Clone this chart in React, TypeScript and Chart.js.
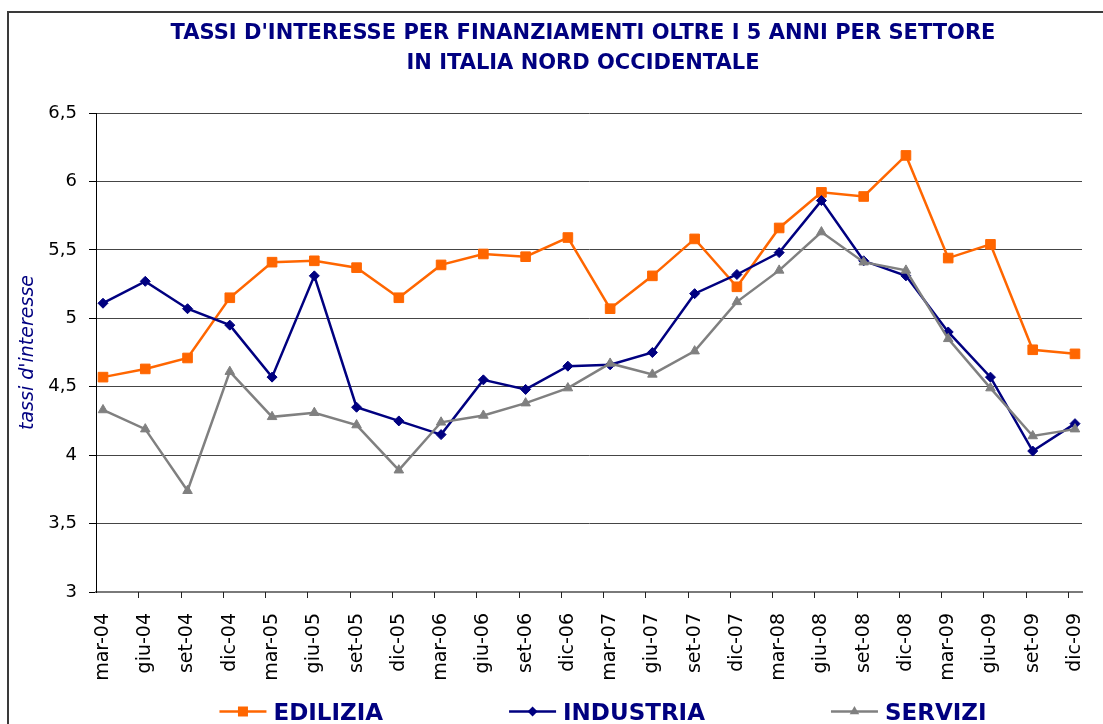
import React, { useEffect, useRef } from 'react';
import { Chart, registerables } from 'chart.js';

Chart.register(...registerables);

const categories = ['mar-04','giu-04','set-04','dic-04','mar-05','giu-05','set-05','dic-05','mar-06','giu-06','set-06','dic-06','mar-07','giu-07','set-07','dic-07','mar-08','giu-08','set-08','dic-08','mar-09','giu-09','set-09','dic-09'];
const edilizia = [4.57,4.63,4.71,5.15,5.41,5.42,5.37,5.15,5.39,5.47,5.45,5.59,5.07,5.31,5.58,5.23,5.66,5.92,5.89,6.19,5.44,5.54,4.77,4.74];
const industria = [5.11,5.27,5.07,4.95,4.57,5.31,4.35,4.25,4.15,4.55,4.48,4.65,4.66,4.75,5.18,5.32,5.48,5.86,5.42,5.31,4.90,4.57,4.03,4.23];
const servizi = [4.33,4.19,3.74,4.61,4.28,4.31,4.22,3.89,4.24,4.29,4.38,4.49,4.67,4.59,4.76,5.12,5.35,5.63,5.41,5.35,4.85,4.49,4.14,4.19];
const yTicks = [3, 3.5, 4, 4.5, 5, 5.5, 6, 6.5];
const seriesNames = ['EDILIZIA', 'INDUSTRIA', 'SERVIZI'];
const titleLines = ["TASSI D'INTERESSE PER FINANZIAMENTI OLTRE I 5 ANNI PER SETTORE", 'IN ITALIA NORD OCCIDENTALE'];
const yTitle = "tassi d'interesse";

const W = 1103;
const H = 724;
const X_PAD = 0.166;
const NAVY = '#000080';
const ORANGE = '#FF6600';
const GRAY = '#808080';

const seriesStyles = [
  { color: ORANGE, marker: 'rect' },
  { color: NAVY, marker: 'rectRot' },
  { color: GRAY, marker: 'triangle' },
];

function drawMarker(ctx: CanvasRenderingContext2D, kind: string, x: number, y: number, color: string) {
  ctx.fillStyle = color;
  ctx.beginPath();
  if (kind === 'rect') {
    ctx.rect(x - 5, y - 5, 10, 10);
  } else if (kind === 'rectRot') {
    ctx.moveTo(x - 5, y);
    ctx.lineTo(x, y - 5);
    ctx.lineTo(x + 5, y);
    ctx.lineTo(x, y + 5);
    ctx.closePath();
  } else {
    const r = 5.5;
    ctx.moveTo(x, y - r);
    ctx.lineTo(x + r * Math.cos(Math.PI / 6), y + r / 2);
    ctx.lineTo(x - r * Math.cos(Math.PI / 6), y + r / 2);
    ctx.closePath();
  }
  ctx.fill();
}

const decorPlugin = {
  id: 'decor',
  beforeDraw(chart: any) {
    const ctx = chart.ctx as CanvasRenderingContext2D;
    ctx.save();
    ctx.fillStyle = '#ffffff';
    ctx.fillRect(0, 0, chart.width, chart.height);
    ctx.strokeStyle = '#3a3a3a';
    ctx.lineWidth = 2;
    ctx.strokeRect(8, 12, chart.width + 40, chart.height + 40);
    ctx.restore();
  },
  afterDraw(chart: any) {
    const ctx = chart.ctx as CanvasRenderingContext2D;
    const area = chart.chartArea;
    const xScale = chart.scales.x;
    const cx = (area.left + area.right) / 2;
    ctx.save();
    // x tick marks between categories
    ctx.strokeStyle = '#222';
    ctx.lineWidth = 1;
    ctx.beginPath();
    for (let i = 1; i < categories.length; i++) {
      const px = Math.round(xScale.getPixelForValue(i - X_PAD)) + 0.5;
      ctx.moveTo(px, area.bottom);
      ctx.lineTo(px, area.bottom + 6);
    }
    ctx.stroke();

    // title
    ctx.fillStyle = NAVY;
    ctx.font = 'bold 21px "DejaVu Sans"';
    ctx.textAlign = 'center';
    ctx.textBaseline = 'alphabetic';
    ctx.fillText(titleLines[0], cx - 6, 39);
    ctx.fillText(titleLines[1], cx - 6, 69);

    // legend
    ctx.font = 'bold 23px "DejaVu Sans"';
    ctx.textAlign = 'left';
    const iconW = 47;
    const gapText = 7;
    const gapItems = 126;
    const widths = seriesNames.map((n) => iconW + gapText + ctx.measureText(n).width);
    const total = widths.reduce((a, b) => a + b, 0) + gapItems * (seriesNames.length - 1);
    let x = cx + 14 - total / 2;
    const ly = 711.5;
    seriesNames.forEach((name, i) => {
      const st = seriesStyles[i];
      ctx.strokeStyle = st.color;
      ctx.lineWidth = 2.5;
      ctx.beginPath();
      ctx.moveTo(x, ly);
      ctx.lineTo(x + iconW, ly);
      ctx.stroke();
      drawMarker(ctx, st.marker, x + iconW / 2, ly, st.color);
      ctx.fillStyle = NAVY;
      ctx.fillText(name, x + iconW + gapText, 720);
      x += widths[i] + gapItems;
    });
    ctx.restore();
  },
};

export default function App() {
  const ref = useRef<HTMLCanvasElement | null>(null);

  useEffect(() => {
    if (!ref.current) return;
    const toPoints = (arr: number[]) => arr.map((v, i) => ({ x: i, y: v }));
    const datasets = [edilizia, industria, servizi].map((arr, i) => ({
      label: seriesNames[i],
      data: toPoints(arr),
      borderColor: seriesStyles[i].color,
      backgroundColor: seriesStyles[i].color,
      pointBackgroundColor: seriesStyles[i].color,
      pointBorderColor: seriesStyles[i].color,
      pointBorderWidth: 1,
      pointStyle: seriesStyles[i].marker,
      pointRadius: i === 0 ? 6.8 : i === 1 ? 5 : 5.5,
      borderWidth: 2.5,
      tension: 0,
      fill: false,
      order: 2 - i,
    }));

    const chart = new Chart(ref.current, {
      type: 'line',
      data: { datasets },
      plugins: [decorPlugin],
      options: {
        responsive: false,
        animation: false,
        layout: { padding: { left: 8, top: 113, right: 21, bottom: 0 } },
        plugins: {
          legend: { display: false },
          title: { display: false },
          tooltip: { enabled: false },
        },
        scales: {
          x: {
            type: 'linear',
            min: -X_PAD,
            max: categories.length - 1 + X_PAD,
            afterBuildTicks: (scale: any) => {
              scale.ticks = categories.map((_, i) => ({ value: i }));
            },
            afterFit: (scale: any) => {
              scale.height = 132;
              scale.paddingLeft = 0;
              scale.paddingRight = 0;
            },
            ticks: {
              autoSkip: false,
              maxRotation: 90,
              minRotation: 90,
              padding: 21,
              color: '#000',
              font: { family: 'DejaVu Sans', size: 19 },
              callback: (v: any) => categories[Math.round(Number(v))] ?? '',
            },
            grid: { display: true, drawOnChartArea: false, drawTicks: false },
            border: { display: true, color: '#7a7a7a', width: 2 },
          },
          y: {
            type: 'linear',
            min: 3,
            max: 6.5,
            afterBuildTicks: (scale: any) => {
              scale.ticks = yTicks.map((v) => ({ value: v }));
            },
            afterFit: (scale: any) => {
              scale.width = 88;
              scale.paddingTop = 0;
              scale.paddingBottom = 0;
            },
            ticks: {
              padding: 12,
              color: '#000',
              font: { family: 'DejaVu Sans', size: 18 },
              callback: (v: any) => String(v).replace('.', ','),
            },
            grid: { color: '#454545', lineWidth: 1, tickLength: 7, tickColor: '#000' },
            border: { display: true, color: '#000', width: 1 },
            title: {
              display: true,
              text: yTitle,
              color: NAVY,
              font: { family: 'DejaVu Sans', size: 19, style: 'italic' },
              padding: { top: 9, bottom: 0 },
            },
          },
        },
      },
    } as any);

    return () => chart.destroy();
  }, []);

  return (
    <div style={{ position: 'fixed', left: 0, top: 0, width: W, height: H, background: '#fff' }}>
      <canvas ref={ref} width={W} height={H} style={{ display: 'block', width: W, height: H }} />
    </div>
  );
}
